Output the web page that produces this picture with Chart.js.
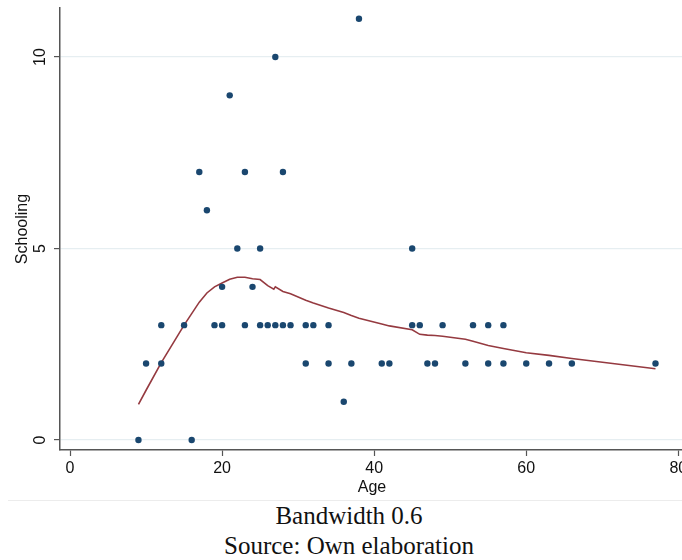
<!DOCTYPE html>
<html>
<head>
<meta charset="utf-8">
<script src="https://cdn.jsdelivr.net/npm/chart.js@4.4.1/dist/chart.umd.min.js"></script>
<style>
    body { margin: 0; background: #fff; }
    #wrap { position: relative; width: 682px; height: 560px; overflow: hidden; }
    #box { position: absolute; left: 0; top: 0; width: 688px; height: 500px; }
    #linha { position: absolute; left: 8px; top: 500px; width: 674px; border-top: 1px solid #ececec; }
    .legenda { position: absolute; left: 0; width: 698px; text-align: center; font-family: "Liberation Serif", serif; font-size: 25px; color: #111; }
</style>
</head>
<body>
<div id="wrap">
    <div id="box"><canvas id="grafico"></canvas></div>
    <div id="linha"></div>
    <div class="legenda" style="top: 502px;">Bandwidth 0.6</div>
    <div class="legenda" style="top: 532px;">Source: Own elaboration</div>
</div>
<script>
// pontos observados (idade x escolaridade)
const idade = [27, 21, 17, 23, 28, 18, 38, 22, 25, 45, 20, 24,
    12, 15, 19, 20, 23, 25, 26, 27, 28, 29, 31, 32, 34, 45, 46, 49, 53, 55, 57,
    10, 12, 31, 34, 37, 41, 42, 47, 48, 52, 55, 57, 60, 63, 66, 77,
    36, 9, 16];
const escolaridade = [10, 9, 7, 7, 7, 6, 11, 5, 5, 5, 4, 4,
    3, 3, 3, 3, 3, 3, 3, 3, 3, 3, 3, 3, 3, 3, 3, 3, 3, 3, 3,
    2, 2, 2, 2, 2, 2, 2, 2, 2, 2, 2, 2, 2, 2, 2, 2,
    1, 0, 0];

// curva lowess (bandwidth 0.6)
const lowessIdade = [9, 10, 12, 15, 16, 17, 18, 19, 20, 21, 22, 23, 24, 25, 26, 26.8, 27, 28, 29, 31, 32, 34, 36, 37, 38,
    41, 42, 45, 46, 47, 48, 49, 52, 53, 55, 57, 60, 63, 66, 77];
const lowessValor = [0.93, 1.3, 2.02, 3.0, 3.3, 3.6, 3.84, 4.0, 4.1, 4.2, 4.25, 4.25, 4.21, 4.19, 4.03, 3.94, 4.0, 3.88, 3.82, 3.65, 3.58, 3.45, 3.33, 3.25, 3.18,
    3.03, 2.98, 2.88, 2.76, 2.74, 2.73, 2.71, 2.63, 2.58, 2.47, 2.39, 2.28, 2.21, 2.13, 1.86];

const ticksX = [0, 20, 40, 60, 80];
const ticksY = [0, 5, 10];

const pontos = idade.map((a, i) => ({ x: a, y: escolaridade[i] }));
const curva = lowessIdade.map((a, i) => ({ x: a, y: lowessValor[i] }));

const fonteEixo = { family: "'Liberation Sans', Arial, sans-serif", size: 16 };

new Chart(document.getElementById('grafico').getContext('2d'), {
    type: 'scatter',
    data: {
        datasets: [
            {
                label: 'Schooling',
                data: pontos,
                backgroundColor: '#1a476f',
                borderWidth: 0,
                pointRadius: 3.2
            },
            {
                label: 'lowess',
                data: curva,
                showLine: true,
                borderColor: '#953a40',
                borderWidth: 1.6,
                pointRadius: 0,
                tension: 0,
                fill: false
            }
        ]
    },
    options: {
        responsive: true,
        maintainAspectRatio: false,
        animation: false,
        layout: { padding: { top: 8, right: 0, bottom: 0, left: 0 } },
        plugins: {
            legend: { display: false },
            tooltip: { enabled: false }
        },
        scales: {
            x: {
                type: 'linear',
                min: -1.32,
                max: 80.75,
                afterBuildTicks: s => { s.ticks = ticksX.map(v => ({ value: v })); },
                afterFit: s => { s.height = 50; s.paddingLeft = 0; s.paddingRight = 0; },
                border: { color: '#555', width: 1.5 },
                grid: { drawOnChartArea: false, tickLength: 6, tickColor: '#555', tickWidth: 1.2 },
                ticks: { font: fonteEixo, color: '#111', padding: 3, maxRotation: 0 },
                title: { display: true, text: 'Age', font: fonteEixo, color: '#111', padding: { top: 0, bottom: 3 } }
            },
            y: {
                type: 'linear',
                min: -0.26,
                max: 11.28,
                afterBuildTicks: s => { s.ticks = ticksY.map(v => ({ value: v })); },
                afterFit: s => { s.width = 60; s.paddingTop = 0; s.paddingBottom = 0; },
                border: { color: '#555', width: 1.5 },
                grid: { color: '#e6eef1', lineWidth: 1.2, tickLength: 6, tickColor: '#555', tickWidth: 1.2 },
                ticks: { font: fonteEixo, color: '#111', padding: 5, minRotation: 90, maxRotation: 90, crossAlign: 'center' },
                title: { display: true, text: 'Schooling', font: fonteEixo, color: '#111', padding: { top: 13, bottom: 0 } }
            }
        }
    }
});
</script>
</body>
</html>
